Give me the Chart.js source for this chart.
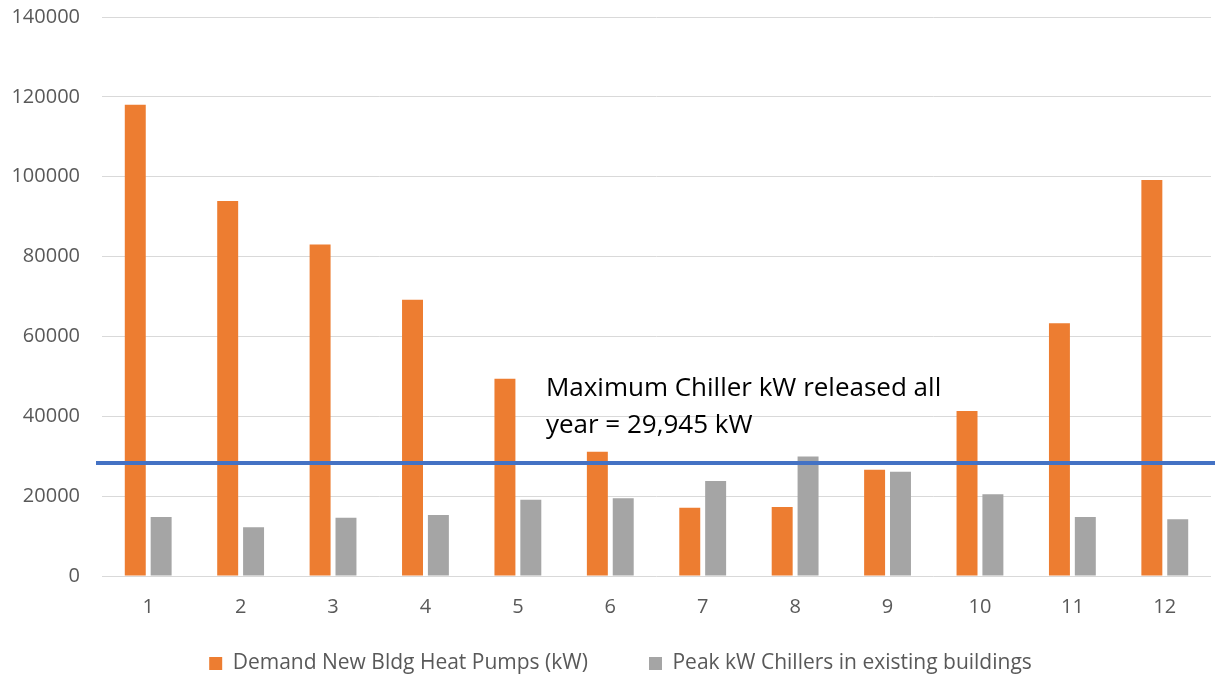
<!DOCTYPE html>
<html>
<head>
<meta charset="utf-8">
<script src="https://cdn.jsdelivr.net/npm/chart.js@4"></script>
<style>
  html, body { margin: 0; padding: 0; background: #fff; overflow: hidden; }
  #wrap { width: 1215px; height: 701px; margin-top: -17px; }
</style>
</head>
<body>
<div id="wrap"><canvas id="myChart" width="1215" height="701"></canvas></div>
<script>
const months = ['1', '2', '3', '4', '5', '6', '7', '8', '9', '10', '11', '12'];
const heatPumps = [118000, 93900, 83000, 69200, 49400, 31100, 17100, 17300, 26600, 41300, 63300, 99200];
const chillers = [14800, 12200, 14600, 15300, 19100, 19500, 23800, 29900, 26100, 20500, 14800, 14200];
const maxChillerLine = 28300;
const noteLines = ['Maximum Chiller kW released all', 'year = 29,945 kW'];

const axisFont = { family: 'Open Sans', size: 20 };

// horizontal blue line + note text
const maxLinePlugin = {
    id: 'maxLine',
    afterLayout(chart) {
        // legend sits a bit right of centre in the original
        chart.legend.left += 15;
        chart.legend.right += 15;
    },
    afterDatasetsDraw(chart) {
        const ctx = chart.ctx;
        const y = chart.scales.y.getPixelForValue(maxChillerLine);
        ctx.save();
        ctx.strokeStyle = '#4472C4';
        ctx.lineWidth = 4;
        ctx.beginPath();
        ctx.moveTo(chart.chartArea.left - 6, y);
        ctx.lineTo(chart.width, y);
        ctx.stroke();

        const tx = chart.scales.x.getPixelForValue(4) + 28;
        ctx.fillStyle = '#000';
        ctx.font = '26px "Open Sans"';
        ctx.textBaseline = 'middle';
        ctx.fillText(noteLines[0], tx, chart.scales.y.getPixelForValue(47000));
        ctx.fillText(noteLines[1], tx, chart.scales.y.getPixelForValue(37700));
        ctx.restore();
    }
};

const chart = new Chart(document.getElementById('myChart'), {
    type: 'bar',
    data: {
        labels: months,
        datasets: [{
            label: 'Demand New Bldg Heat Pumps (kW)',
            data: heatPumps,
            backgroundColor: '#ED7D31',
            categoryPercentage: 0.56,
            barPercentage: 0.81
        }, {
            label: 'Peak kW Chillers in existing buildings',
            data: chillers,
            backgroundColor: '#A5A5A5',
            categoryPercentage: 0.56,
            barPercentage: 0.81
        }]
    },
    options: {
        responsive: false,
        animation: false,
        layout: { padding: { top: 0, right: 4, left: 0, bottom: 0 } },
        scales: {
            x: {
                grid: { display: false },
                border: { display: false },
                ticks: { color: '#595959', font: axisFont, padding: 11 },
                afterFit(scale) { scale.height = 65; }
            },
            y: {
                min: 0,
                max: 140000,
                border: { display: false },
                grid: { color: '#D9D9D9', lineWidth: 1, drawTicks: false },
                ticks: {
                    stepSize: 20000,
                    color: '#595959',
                    font: axisFont,
                    padding: 22,
                    callback: (v) => String(v)
                },
                afterFit(scale) { scale.width = 102; }
            }
        },
        plugins: {
            legend: {
                position: 'bottom',
                labels: {
                    color: '#595959',
                    font: { family: 'Open Sans', size: 21 },
                    boxWidth: 13,
                    boxHeight: 13,
                    padding: 12,
                    generateLabels(chart) {
                        const items = Chart.defaults.plugins.legend.labels.generateLabels(chart);
                        // wider gap between the two entries
                        items[0].text = items[0].text + '         ';
                        return items;
                    }
                }
            },
            tooltip: { enabled: false }
        }
    },
    plugins: [maxLinePlugin]
});
</script>
</body>
</html>
